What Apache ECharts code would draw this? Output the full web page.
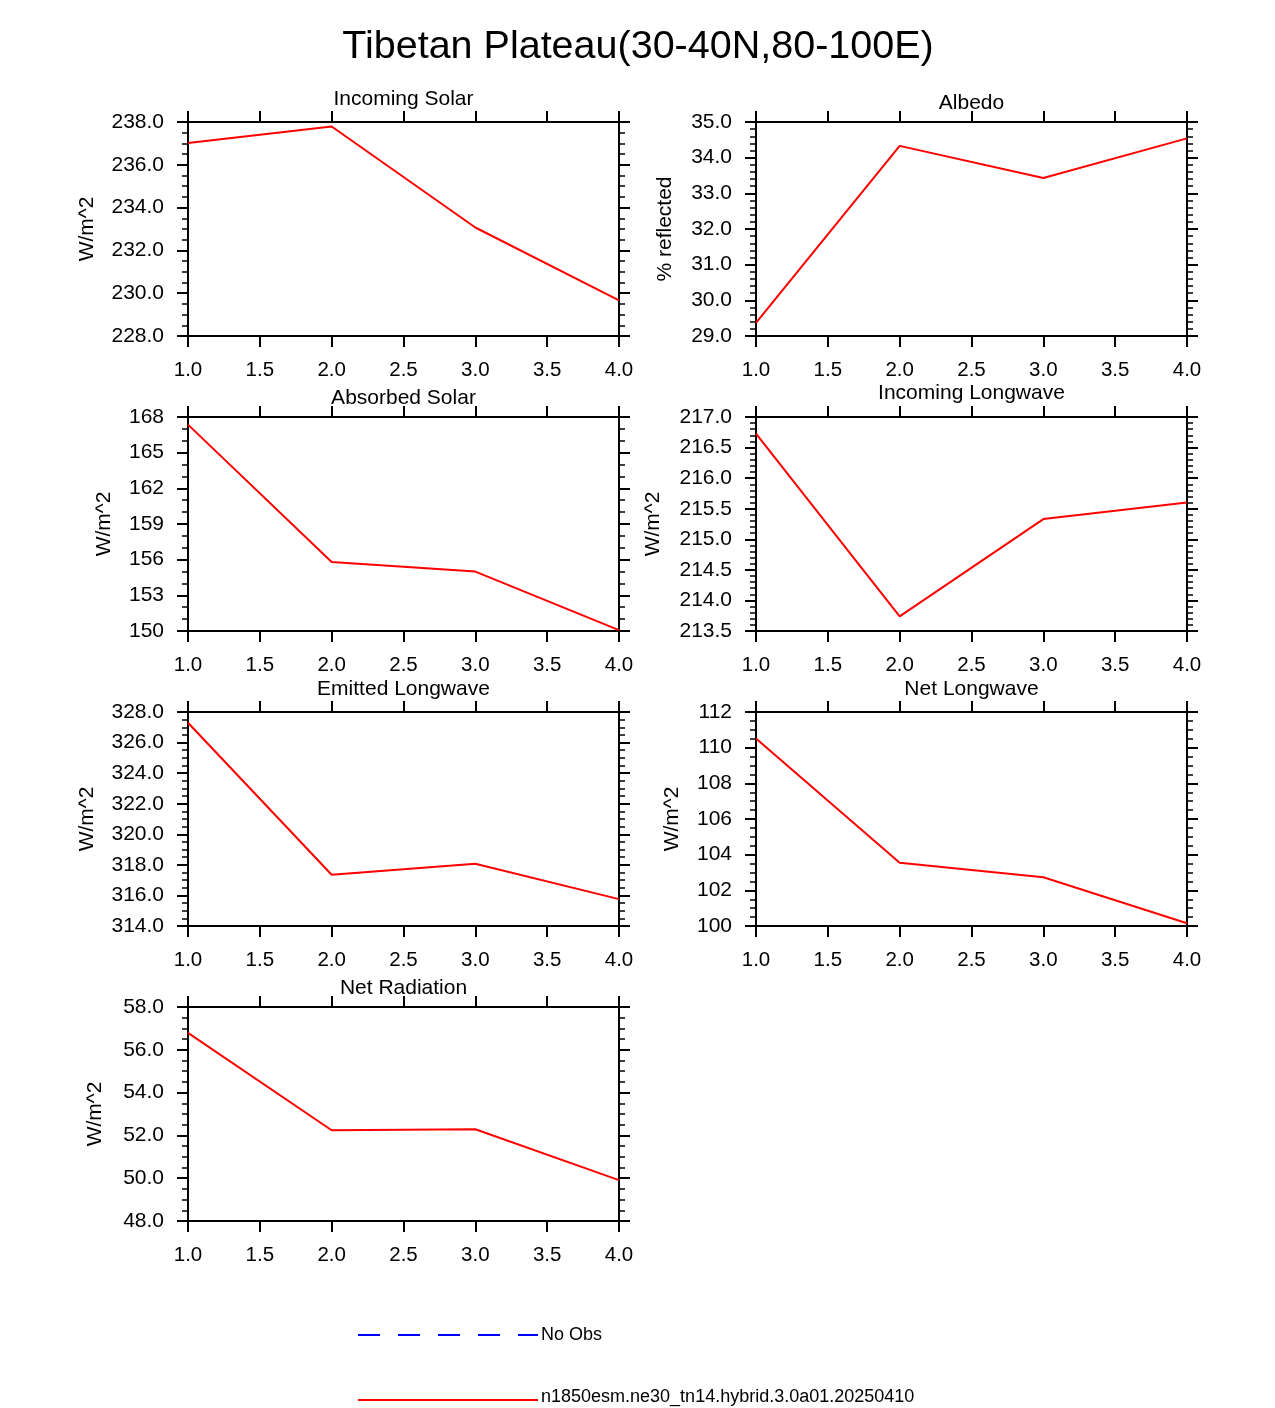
<!DOCTYPE html>
<html lang="en">
<head>
<meta charset="UTF-8">
<title>Tibetan Plateau(30-40N,80-100E)</title>
<script src="https://cdn.jsdelivr.net/npm/echarts@6/dist/echarts.min.js"></script>
<style>
    * { margin: 0; }
    html, body { height: 100%; background: #fff; overflow: hidden; }
    #chart { width: 1275px; height: 1408px; }
</style>
</head>
<body>
<div id="chart"></div>
<script>
// values
const xValues = [1, 2, 3, 4];
const incomingSolar = [237.02, 237.79, 233.07, 229.66];
const albedo = [29.37, 34.33, 33.43, 34.54];
const absorbedSolar = [167.36, 155.8, 155.0, 150.07];
const incomingLongwave = [216.73, 213.74, 215.33, 215.6];
const emittedLongwave = [327.3, 317.35, 318.07, 315.76];
const netLongwave = [110.52, 103.55, 102.73, 100.15];
const netRadiation = [56.79, 52.24, 52.29, 49.91];

const xTicks = { min: 1, max: 4, interval: 0.5 };
const caseName = 'n1850esm.ne30_tn14.hybrid.3.0a01.20250410';

// one entry per panel: title, y-axis name, values, y range, decimals, minor splits
const panels = [
    { title: 'Incoming Solar', unit: 'W/m^2', data: incomingSolar, min: 228, max: 238, interval: 2, dec: 1, minor: 4, gap: 90, tMid: 98 },
    { title: 'Albedo', unit: '% reflected', data: albedo, min: 29, max: 35, interval: 1, dec: 1, minor: 5, gap: 80, tMid: 102 },
    { title: 'Absorbed Solar', unit: 'W/m^2', data: absorbedSolar, min: 150, max: 168, interval: 3, dec: 0, minor: 3, gap: 73, tMid: 397 },
    { title: 'Incoming Longwave', unit: 'W/m^2', data: incomingLongwave, min: 213.5, max: 217, interval: 0.5, dec: 1, minor: 5, gap: 92, tMid: 392 },
    { title: 'Emitted Longwave', unit: 'W/m^2', data: emittedLongwave, min: 314, max: 328, interval: 2, dec: 1, minor: 4, gap: 90, tMid: 688 },
    { title: 'Net Longwave', unit: 'W/m^2', data: netLongwave, min: 100, max: 112, interval: 2, dec: 0, minor: 4, gap: 73, tMid: 688 },
    { title: 'Net Radiation', unit: 'W/m^2', data: netRadiation, min: 48, max: 58, interval: 2, dec: 1, minor: 4, gap: 82, tMid: 987 }
];

const colLeft = [188, 756];
const rowTop = [122, 417, 712, 1007];
const plotW = 431, plotH = 214;
const font = 'Liberation Sans, Helvetica, Arial, sans-serif';

let grids = [], xAxes = [], yAxes = [], series = [];
let titles = [{
    text: 'Tibetan Plateau(30-40N,80-100E)',
    left: 638, top: 27, textAlign: 'center', padding: 0,
    textStyle: { fontSize: 39.5, fontWeight: 'normal', color: '#000', fontFamily: font }
}];

const axisLine = { show: true, onZero: false, lineStyle: { color: '#000', width: 2 } };
const axisTick = { show: true, inside: false, length: 11, lineStyle: { color: '#000', width: 2 } };

panels.forEach((p, i) => {
    let left = colLeft[i % 2], top = rowTop[Math.floor(i / 2)];
    grids.push({ left: left, top: top, width: plotW, height: plotH });
    titles.push({
        text: p.title, left: left + plotW / 2, top: p.tMid - 9, textAlign: 'center', padding: 0,
        textStyle: { fontSize: 21, fontWeight: 'normal', color: '#000', fontFamily: font }
    });
    // bottom and top x axes
    ['bottom', 'top'].forEach(pos => {
        xAxes.push({
            type: 'value', gridIndex: i, position: pos,
            min: xTicks.min, max: xTicks.max, interval: xTicks.interval,
            axisLine: axisLine, axisTick: axisTick,
            splitLine: { show: false },
            axisLabel: {
                show: pos === 'bottom', margin: 24, fontSize: 20.5, color: '#000', fontFamily: font,
                formatter: v => v.toFixed(1)
            }
        });
    });
    // left and right y axes
    ['left', 'right'].forEach(pos => {
        yAxes.push({
            type: 'value', gridIndex: i, position: pos,
            min: p.min, max: p.max, interval: p.interval,
            name: pos === 'left' ? p.unit : '', nameLocation: 'middle', nameGap: p.gap, nameRotate: 90,
            nameTextStyle: { fontSize: 21, color: '#000', fontFamily: font },
            axisLine: axisLine, axisTick: axisTick,
            minorTick: { show: true, splitNumber: p.minor, length: 6, lineStyle: { color: '#000', width: 1.5 } },
            splitLine: { show: false }, minorSplitLine: { show: false },
            axisLabel: {
                show: pos === 'left', margin: 24, fontSize: 21, color: '#000', fontFamily: font,
                formatter: v => v.toFixed(p.dec)
            }
        });
    });
    series.push({
        name: caseName, type: 'line', xAxisIndex: 2 * i, yAxisIndex: 2 * i,
        data: xValues.map((x, k) => [x, p.data[k]]),
        symbol: 'none', silent: true, animation: false,
        lineStyle: { color: '#ff0000', width: 2 }, itemStyle: { color: '#ff0000' }
    });
});

// observations are missing; kept only for the legend entry
series.unshift({
    name: 'No Obs', type: 'line', xAxisIndex: 0, yAxisIndex: 0, data: [],
    symbol: 'none', animation: false,
    lineStyle: { color: '#0000ff', width: 1.5, type: [22, 18] }, itemStyle: { color: '#0000ff' }
});

// legend text raised a little so the underscores stay inside the page
function legendAt(name, top, raise) {
    return {
        data: [name], left: 357, top: top,
        orient: 'vertical', padding: 0,
        itemWidth: 180, itemHeight: 14,
        selectedMode: false,
        itemStyle: { opacity: 0 },
        formatter: n => '{t|' + n + '}',
        textStyle: {
            fontSize: 18, color: '#000', fontFamily: font,
            rich: { t: { fontSize: 18, color: '#000', fontFamily: font, padding: [0, 0, raise, -2] } }
        }
    };
}

let chart = echarts.init(document.getElementById('chart'));
chart.setOption({
    backgroundColor: '#fff',
    animation: false,
    title: titles,
    grid: grids,
    xAxis: xAxes,
    yAxis: yAxes,
    legend: [
        legendAt('No Obs', 1326, 0),
        legendAt(caseName, 1388, 6)
    ],
    series: series
});
</script>
</body>
</html>
